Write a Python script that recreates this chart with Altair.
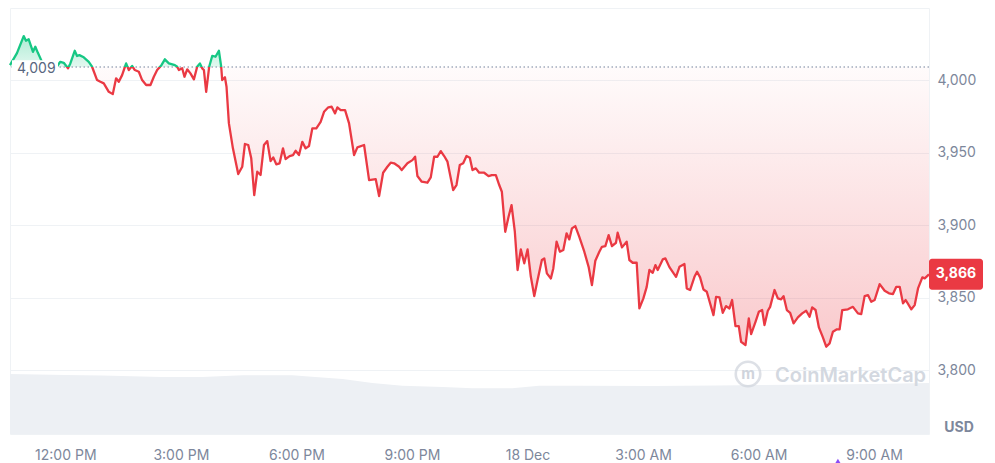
import altair as alt
import pandas as pd

# ---------------- data ----------------
BASE_PRICE = 4009          # reference (open) price, dotted line
LAST_PRICE = 3866
RED = "#ea3943"
GREEN = "#16c784"

# hours after 12:00 PM, 17 Dec 2024
HOURS = [
    -1.437, -1.256, -1.081, -1.022, -0.951, -0.840, -0.780, -0.710, -0.580, -0.424,
    -0.268, -0.130, -0.042, 0.070, 0.130, 0.244, 0.304, 0.364, 0.478, 0.608,
    0.694, 0.824, 0.910, 0.998, 1.128, 1.232, 1.318, 1.388, 1.474, 1.578,
    1.648, 1.734, 1.804, 1.908, 1.994, 2.098, 2.210, 2.298, 2.384, 2.495,
    2.584, 2.688, 2.844, 2.904, 2.948, 3.034, 3.093, 3.164, 3.249, 3.338,
    3.423, 3.494, 3.553, 3.598, 3.657, 3.735, 3.813, 3.899, 3.987, 4.047,
    4.073, 4.144, 4.185, 4.247, 4.351, 4.489, 4.593, 4.663, 4.749, 4.827,
    4.905, 4.983, 5.069, 5.157, 5.243, 5.329, 5.399, 5.477, 5.563, 5.651,
    5.719, 5.823, 5.911, 5.979, 6.067, 6.153, 6.239, 6.327, 6.413, 6.517,
    6.629, 6.717, 6.829, 6.915, 7.003, 7.063, 7.149, 7.263, 7.367, 7.497,
    7.583, 7.757, 7.887, 8.058, 8.147, 8.251, 8.362, 8.448, 8.537, 8.666,
    8.734, 8.882, 9.012, 9.082, 9.142, 9.254, 9.402, 9.488, 9.576, 9.662,
    9.748, 9.836, 9.922, 10.070, 10.156, 10.242, 10.330, 10.416, 10.502, 10.572,
    10.658, 10.746, 10.876, 10.988, 11.074, 11.178, 11.266, 11.334, 11.422, 11.508,
    11.586, 11.671, 11.742, 11.827, 11.916, 12.002, 12.087, 12.176, 12.262, 12.373,
    12.436, 12.503, 12.607, 12.670, 12.755, 12.841, 12.930, 13.015, 13.085, 13.153,
    13.241, 13.345, 13.475, 13.587, 13.673, 13.761, 13.865, 13.933, 14.021, 14.107,
    14.193, 14.297, 14.341, 14.453, 14.575, 14.645, 14.731, 14.835, 14.905, 15.009,
    15.095, 15.165, 15.251, 15.321, 15.381, 15.511, 15.581, 15.685, 15.857, 15.946,
    16.075, 16.135, 16.221, 16.335, 16.403, 16.481, 16.569, 16.655, 16.829, 16.896,
    16.985, 17.070, 17.156, 17.244, 17.312, 17.400, 17.486, 17.546, 17.660, 17.746,
    17.806, 17.920, 18.006, 18.092, 18.154, 18.240, 18.300, 18.414, 18.500, 18.586,
    18.648, 18.734, 18.820, 18.909, 19.020, 19.132, 19.236, 19.324, 19.392, 19.480,
    19.566, 19.670, 19.756, 19.844, 19.930, 20.034, 20.104, 20.172, 20.320, 20.450,
    20.580, 20.666, 20.754, 20.840, 20.925, 21.014, 21.144, 21.274, 21.386, 21.490,
    21.576, 21.664, 21.750, 21.820, 21.966, 22.054, 22.140, 22.252, 22.314, 22.425,
]

PRICE = [
    4010.3, 4018.6, 4030.3, 4027.1, 4028.1, 4019.5, 4023.0, 4018.6, 4011.0, 4008.9,
    4007.6, 4012.6, 4011.9, 4008.1, 4011.5, 4020.2, 4016.6, 4017.2, 4015.7, 4012.6,
    4009.2, 4000.0, 3998.8, 3997.7, 3991.9, 3990.3, 4001.2, 3998.8, 4003.4, 4011.5,
    4006.9, 4009.7, 4006.9, 4005.7, 4000.0, 3996.6, 3996.6, 4002.3, 4006.9, 4010.3,
    4014.3, 4011.5, 4010.3, 4009.2, 4006.9, 4008.1, 4002.3, 4007.4, 4004.6, 4000.5,
    4009.2, 4011.5, 4008.1, 4006.9, 3991.9, 4009.2, 4016.6, 4016.1, 4020.2, 4009.2,
    4000.0, 4001.9, 3995.4, 3970.1, 3952.9, 3935.2, 3940.2, 3955.9, 3955.2, 3946.0,
    3920.7, 3936.8, 3934.5, 3955.2, 3957.9, 3944.1, 3946.7, 3941.9, 3942.6, 3952.9,
    3945.5, 3947.6, 3948.3, 3951.2, 3948.3, 3957.4, 3952.9, 3954.5, 3966.7, 3966.7,
    3971.2, 3978.1, 3981.2, 3981.6, 3977.0, 3981.2, 3979.3, 3979.3, 3970.1, 3948.3,
    3953.6, 3955.2, 3931.0, 3931.7, 3920.0, 3936.1, 3940.2, 3943.0, 3942.6, 3940.2,
    3937.9, 3942.6, 3944.8, 3947.1, 3933.8, 3929.9, 3929.2, 3932.9, 3947.1, 3947.1,
    3951.0, 3947.6, 3943.7, 3924.1, 3927.6, 3941.4, 3942.6, 3947.6, 3946.4, 3937.9,
    3939.1, 3936.1, 3936.1, 3933.8, 3934.5, 3934.5, 3927.6, 3923.0, 3895.4, 3905.7,
    3913.8, 3895.4, 3869.0, 3883.2, 3873.6, 3883.2, 3864.3, 3851.0, 3862.1, 3875.9,
    3877.0, 3866.7, 3863.2, 3870.1, 3888.5, 3881.6, 3882.8, 3894.3, 3890.1, 3897.7,
    3899.3, 3891.9, 3881.6, 3871.2, 3858.6, 3875.4, 3881.6, 3885.0, 3885.5, 3893.1,
    3885.5, 3887.8, 3894.7, 3884.6, 3888.5, 3875.9, 3874.0, 3874.0, 3842.5, 3849.4,
    3857.4, 3869.0, 3867.1, 3872.4, 3869.0, 3876.3, 3877.0, 3871.0, 3864.3, 3871.2,
    3873.1, 3856.3, 3855.2, 3864.3, 3867.8, 3863.9, 3855.6, 3854.0, 3837.9, 3850.5,
    3850.1, 3839.5, 3844.1, 3842.5, 3848.3, 3830.3, 3830.3, 3819.5, 3817.2, 3835.6,
    3824.8, 3833.3, 3840.2, 3841.4, 3831.0, 3840.9, 3843.6, 3855.2, 3849.4, 3848.8,
    3851.0, 3841.4, 3839.5, 3832.2, 3836.3, 3839.1, 3840.9, 3836.8, 3843.2, 3841.4,
    3829.4, 3822.5, 3816.1, 3818.4, 3826.4, 3828.1, 3828.1, 3841.4, 3841.9, 3843.6,
    3839.1, 3838.6, 3851.0, 3851.7, 3847.1, 3848.3, 3859.3, 3854.7, 3852.9, 3852.4,
    3857.4, 3857.4, 3846.0, 3848.3, 3841.9, 3844.8, 3856.3, 3863.9, 3863.2, 3866.0,
]

# 24h volume profile (billion USD), hours after 12:00 PM
VOL_HOURS = [-1.437, 0.0, 0.95, 2.5, 3.55, 4.6, 5.9, 6.4, 7.2, 7.97, 8.75,
             9.8, 10.57, 11.6, 12.3, 13.4, 15.25, 16.9, 18.1, 19.5, 21.0, 22.425]
VOLUME_B = [30.0, 29.5, 29.25, 28.5, 28.5, 29.35, 29.35, 28.65, 27.5, 25.5, 24.15,
            23.5, 22.85, 22.85, 24.15, 24.15, 24.0, 24.25, 24.5, 24.75, 25.0, 25.5]

Y_TICKS = [3800, 3850, 3900, 3950, 4000]
X_TICK_HOURS = [0, 3, 6, 9, 12, 15, 18, 21]
EVENT_HOUR = 20.06

assert len(HOURS) == len(PRICE)

# ---------------- frames ----------------
noon = pd.Timestamp("2024-12-17 12:00:00")


def ts(h):
    return (noon + pd.to_timedelta(h, unit="h")).round("s")


def dt(h):
    t = ts(h)
    return alt.DateTime(year=t.year, month=t.month, date=t.day,
                        hours=t.hour, minutes=t.minute, seconds=t.second)


df = pd.DataFrame({"t": [ts(h) for h in HOURS], "p": PRICE})
vol = pd.DataFrame({"t": [ts(h) for h in VOL_HOURS], "v": VOLUME_B})
ev = pd.DataFrame({"t": [ts(EVENT_HOUR)]})
one = pd.DataFrame({"k": [0]})

W, H = 919, 426
FONT = "Inter"
AXIS_GRAY = "#7d879b"
GRID = "#eff2f5"

Y_LO, Y_HI = 3755.9, 4049.7
# the volume band sits at the bottom of the plot: full plot height = 213 B
VOL_FULL = 213.0

x_scale = alt.Scale(domain=[dt(HOURS[0]), dt(HOURS[-1])])
x_axis = alt.Axis(values=[dt(h) for h in X_TICK_HOURS],
                  labelExpr="hours(datum.value) == 0 ? timeFormat(datum.value, '%-d %b') : timeFormat(datum.value, '%-I:%M %p')",
                  title=None, ticks=False, domain=False, grid=False,
                  labelPadding=14, labelFontSize=14, labelColor=AXIS_GRAY,
                  labelFont=FONT)
y_scale = alt.Scale(domain=[Y_LO, Y_HI], nice=False, zero=False)
y_axis = alt.Axis(orient="right", values=Y_TICKS, format=",.0f", title=None,
                  ticks=False, domain=False, grid=True, gridColor=GRID,
                  gridWidth=1, labelPadding=8, labelFontSize=14,
                  labelColor=AXIS_GRAY, labelFont=FONT)

# every layer carries the same axis definition so the shared axes merge cleanly
X = alt.X("t:T", scale=x_scale, axis=x_axis)


def Yf(field):
    return alt.Y(field, type="quantitative", scale=y_scale, axis=y_axis)


def py(v):
    """a fixed price level on the price scale"""
    return alt.Y(datum=v, scale=y_scale, axis=y_axis)


# ---------------- volume (scaled into the bottom band) ----------------
volume = alt.Chart(vol).transform_calculate(
    vy=f"{Y_LO} + datum.v / {VOL_FULL} * {Y_HI - Y_LO}"
).mark_area(color="#edf0f4", interpolate="linear").encode(
    x=X, y=Yf("vy"), y2=alt.datum(Y_LO),
)

# ---------------- price layers ----------------
pmax, pmin = max(PRICE), min(PRICE)
off = (pmax - BASE_PRICE) / (pmax - pmin)

line_grad = alt.Gradient(
    gradient="linear", x1=0, x2=0, y1=0, y2=1,
    stops=[alt.GradientStop(color=GREEN, offset=0),
           alt.GradientStop(color=GREEN, offset=off),
           alt.GradientStop(color=RED, offset=off),
           alt.GradientStop(color=RED, offset=1)])
red_fill = alt.Gradient(
    gradient="linear", x1=0, x2=0, y1=0, y2=1,
    stops=[alt.GradientStop(color="rgba(234,57,67,0.02)", offset=0),
           alt.GradientStop(color="rgba(234,57,67,0.27)", offset=1)])
green_fill = alt.Gradient(
    gradient="linear", x1=0, x2=0, y1=0, y2=1,
    stops=[alt.GradientStop(color="rgba(22,199,132,0.35)", offset=0),
           alt.GradientStop(color="rgba(22,199,132,0.12)", offset=1)])

base = alt.Chart(df)

red_area = base.transform_calculate(lo=f"min(datum.p, {BASE_PRICE})").mark_area(
    fill=red_fill).encode(x=X, y=Yf("lo"), y2=alt.datum(BASE_PRICE))
green_area = base.transform_calculate(hi=f"max(datum.p, {BASE_PRICE})").mark_area(
    fill=green_fill).encode(x=X, y=Yf("hi"), y2=alt.datum(BASE_PRICE))
base_rule = alt.Chart(one).mark_rule(color="#a3acbd", strokeDash=[1.5, 2.5],
                                     strokeWidth=1.3).encode(y=py(BASE_PRICE))

price_line = base.mark_line(stroke=line_grad, strokeWidth=2.3,
                            strokeJoin="round").encode(x=X, y=Yf("p"))

base_box = alt.Chart(one).mark_rect(color="white").encode(
    x=alt.value(2), x2=alt.value(48),
    y=py(4013.6), y2=alt.datum(4002.6))
base_label = alt.Chart(one).mark_text(
    text=f"{BASE_PRICE:,}", align="left", baseline="middle", font=FONT,
    fontSize=14, color="#58667e").encode(
    x=alt.value(7), y=py(4007.8))

tag_box = alt.Chart(one).mark_rect(color=RED, cornerRadius=3).encode(
    x=alt.value(W), x2=alt.value(W + 54),
    y=py(LAST_PRICE + 10.7), y2=alt.datum(LAST_PRICE - 10.7))
tag_text = alt.Chart(one).mark_text(
    text=f"{LAST_PRICE:,}", align="center", baseline="middle", font=FONT,
    fontSize=14, fontWeight="bold", color="white").encode(
    x=alt.value(W + 27), y=py(LAST_PRICE))

# ---------------- decorations ----------------
usd = alt.Chart(one).mark_text(text="USD", align="center", baseline="middle",
                               font=FONT, fontSize=14, fontWeight="bold",
                               color=AXIS_GRAY).encode(
    x=alt.value(W + 30), y=alt.value(H - 6))
wm_text = alt.Chart(one).mark_text(text="CoinMarketCap", align="left",
                                   baseline="middle", font=FONT, fontSize=20,
                                   fontWeight=600, color="#d3d8e0").encode(
    x=alt.value(765), y=alt.value(368))
wm_logo = alt.Chart(one).mark_point(shape="circle", size=600, filled=False,
                                    strokeWidth=2.6, color="#cfd4dc").encode(
    x=alt.value(738), y=alt.value(366))
wm_m = alt.Chart(one).mark_text(text="m", align="center", baseline="middle",
                                font=FONT, fontSize=15, fontWeight="bold",
                                color="#cfd4dc").encode(
    x=alt.value(738), y=alt.value(366))
event = alt.Chart(ev).mark_point(shape="triangle-up", filled=True, size=28,
                                 color="#8b4cf7", opacity=1).encode(
    x=X, y=alt.value(H + 27))

chart = alt.layer(
    volume, red_area, green_area, base_rule, price_line,
    base_box, base_label, tag_box, tag_text,
    usd, wm_text, wm_logo, wm_m, event
).properties(
    width=W, height=H, padding=0
).configure_view(stroke=GRID).configure_axis(labelFont=FONT)

chart.save("out.html", embed_options={"renderer": "svg", "actions": False})
